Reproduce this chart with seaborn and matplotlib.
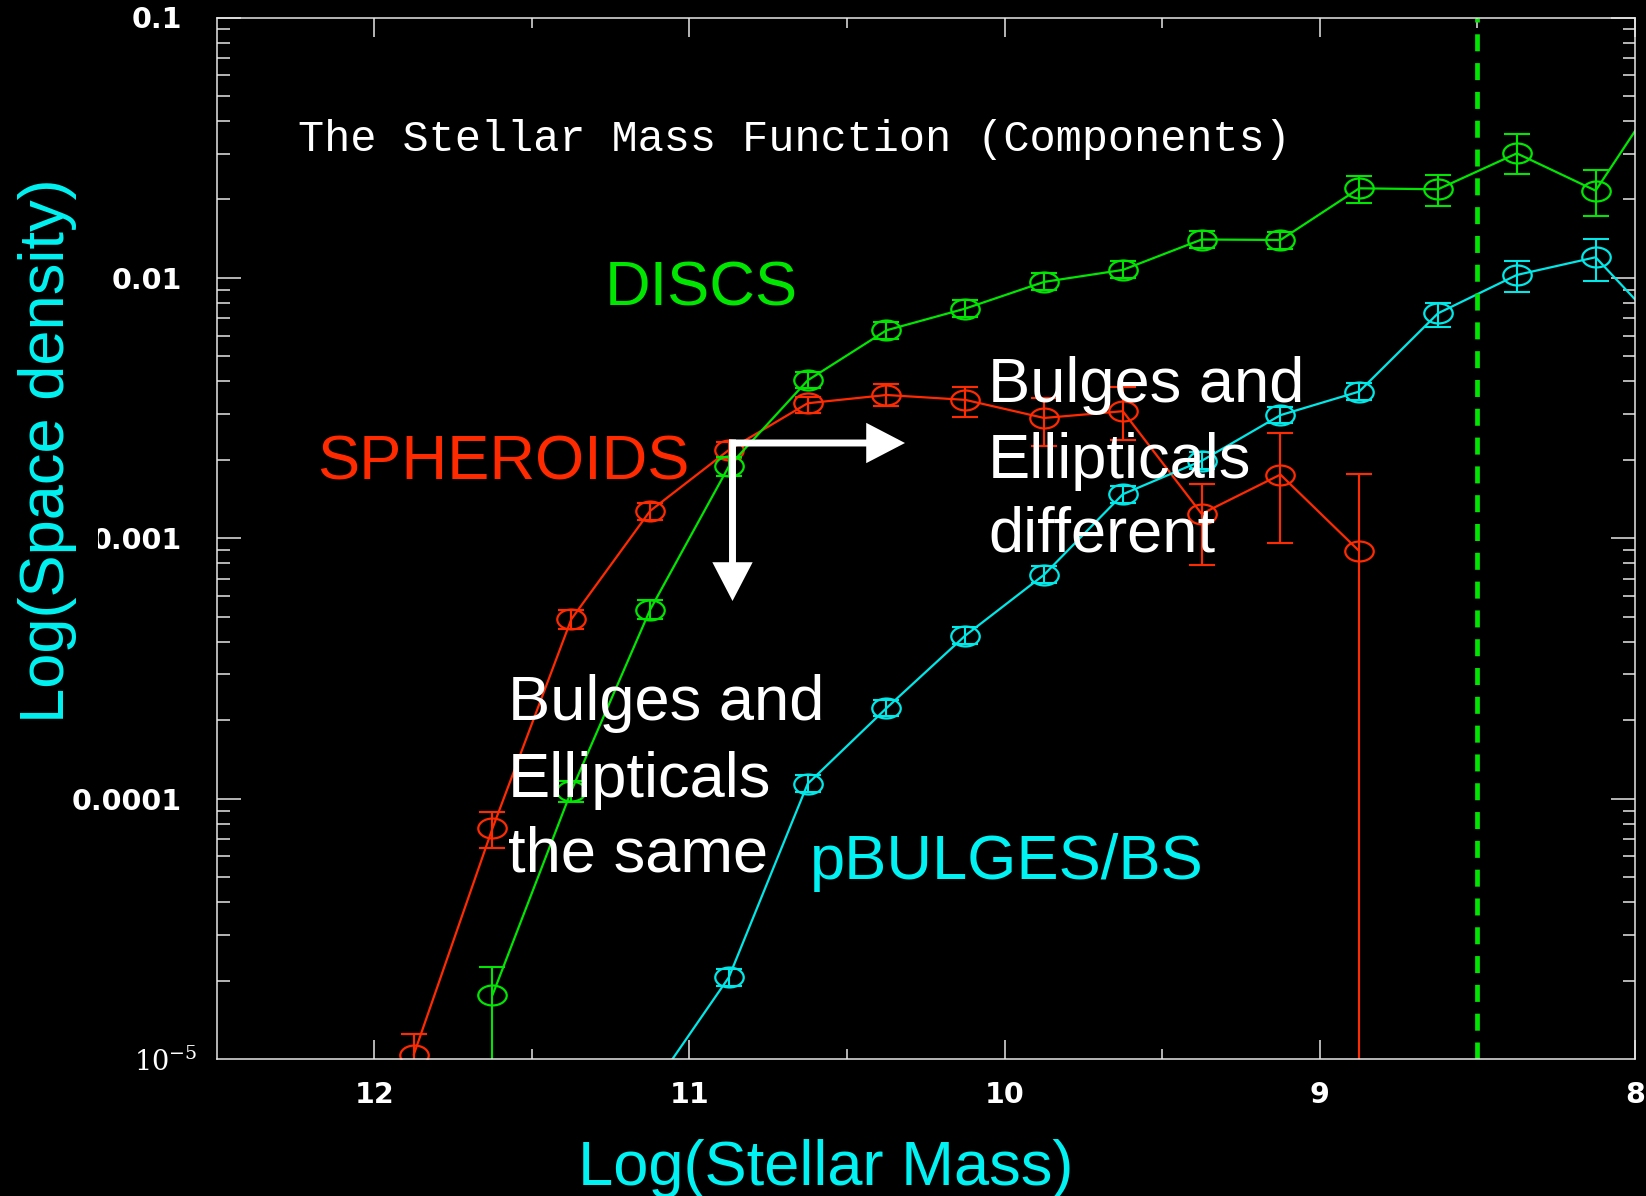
import numpy as np
import pandas as pd
import matplotlib
matplotlib.use("Agg")
import matplotlib.pyplot as plt
import seaborn as sns
from matplotlib.path import Path
from matplotlib.ticker import FixedLocator, LogLocator, NullFormatter

# ---------------- data: log stellar mass bins and space densities ----------------
sph_mass = [11.875, 11.625, 11.375, 11.125, 10.875, 10.625, 10.375, 10.125,
            9.875, 9.625, 9.375, 9.125, 8.875]
sph_phi = [1.037e-5, 7.69e-5, 4.886e-4, 1.273e-3, 2.183e-3, 3.30e-3, 3.55e-3,
           3.40e-3, 2.897e-3, 3.076e-3, 1.241e-3, 1.756e-3, 8.93e-4]
sph_lo = [5.0e-6, 6.45e-5, 4.47e-4, 1.18e-3, 2.03e-3, 3.02e-3, 3.23e-3,
          2.93e-3, 2.26e-3, 2.379e-3, 7.87e-4, 9.63e-4, 1.0e-6]
sph_hi = [1.245e-5, 8.87e-5, 5.31e-4, 1.37e-3, 2.35e-3, 3.50e-3, 3.91e-3,
          3.82e-3, 3.46e-3, 3.82e-3, 1.622e-3, 2.543e-3, 1.77e-3]

disc_mass = [11.625, 11.375, 11.125, 10.875, 10.625, 10.375, 10.125, 9.875,
             9.625, 9.375, 9.125, 8.875, 8.625, 8.375, 8.125, 7.875]
disc_phi = [1.76e-5, 1.07e-4, 5.31e-4, 1.89e-3, 4.04e-3, 6.29e-3, 7.62e-3,
            9.65e-3, 1.073e-2, 1.404e-2, 1.398e-2, 2.208e-2, 2.189e-2,
            3.008e-2, 2.163e-2, 6.2e-2]
disc_lo = [4.0e-6, 9.73e-5, 4.88e-4, 1.735e-3, 3.76e-3, 5.84e-3, 7.08e-3,
           8.96e-3, 9.96e-3, 1.30e-2, 1.288e-2, 1.944e-2, 1.888e-2,
           2.506e-2, 1.729e-2, 6.2e-2]
disc_hi = [2.25e-5, 1.17e-4, 5.77e-4, 2.05e-3, 4.35e-3, 6.77e-3, 8.21e-3,
           1.04e-2, 1.156e-2, 1.51e-2, 1.504e-2, 2.47e-2, 2.49e-2,
           3.57e-2, 2.597e-2, 6.2e-2]

bulge_mass = [11.125, 10.875, 10.625, 10.375, 10.125, 9.875, 9.625, 9.375,
              9.125, 8.875, 8.625, 8.375, 8.125, 7.875]
bulge_phi = [7.5e-6, 2.06e-5, 1.14e-4, 2.226e-4, 4.227e-4, 7.24e-4, 1.476e-3,
             1.983e-3, 2.97e-3, 3.66e-3, 7.31e-3, 1.026e-2, 1.20e-2, 5.7e-3]
bulge_lo = [7.5e-6, 1.91e-5, 1.06e-4, 2.07e-4, 3.92e-4, 6.72e-4, 1.37e-3,
            1.84e-3, 2.76e-3, 3.40e-3, 6.50e-3, 8.85e-3, 9.75e-3, 5.7e-3]
bulge_hi = [7.5e-6, 2.22e-5, 1.23e-4, 2.40e-4, 4.55e-4, 7.80e-4, 1.59e-3,
            2.14e-3, 3.20e-3, 3.94e-3, 8.03e-3, 1.164e-2, 1.414e-2, 5.7e-3]

completeness_limit = 8.5

x_ticks = [12, 11, 10, 9, 8]
x_tick_labels = ["12", "11", "10", "9", "8"]
y_ticks = [1e-4, 1e-3, 1e-2, 1e-1]
y_tick_labels = ["0.0001", "0.001", "0.01", "0.1"]

title = "The Stellar Mass Function (Components)"
x_label = "Log(Stellar Mass)"
y_label = "Log(Space density)"

RED = "#ff2a00"
GREEN = "#00e600"
CYAN = "#00e8e8"
CYAN_TEXT = "#00f2f2"
AXIS_COL = "#e6e6e6"

# ---------------- figure ----------------
W, H = 1646, 1196
sns.set_style("ticks", {"axes.facecolor": "black", "figure.facecolor": "black",
                        "axes.edgecolor": AXIS_COL})
fig = plt.figure(figsize=(W / 100, H / 100), dpi=100, facecolor="black")
ax_l, ax_r, ax_t, ax_b = 216.7, 1635.0, 17.5, 1059.0
ax = fig.add_axes([ax_l / W, 1 - ax_b / H, (ax_r - ax_l) / W, (ax_b - ax_t) / H])
ax.set_facecolor("black")
ax.set_yscale("log")


def fpos(x, y):
    """Figure-fraction position from pixel coordinates measured from the top-left."""
    return x / W, 1 - y / H


# open elliptical marker (wider than tall)
circ = Path.unit_circle()
ellipse = Path(circ.vertices * np.array([1.0, 0.7]), circ.codes)

series = [
    (sph_mass, sph_phi, sph_lo, sph_hi, RED),
    (disc_mass, disc_phi, disc_lo, disc_hi, GREEN),
    (bulge_mass, bulge_phi, bulge_lo, bulge_hi, CYAN),
]
for mass, phi, lo, hi, col in series:
    df = pd.DataFrame({"mass": mass, "phi": phi})
    sns.lineplot(data=df, x="mass", y="phi", ax=ax, color=col, linewidth=1.6,
                 sort=False, estimator=None, marker=ellipse, markersize=20.5,
                 markerfacecolor="none", markeredgecolor=col,
                 markeredgewidth=1.6)
    p = np.array(phi)
    yerr = np.vstack([p - np.array(lo), np.array(hi) - p])
    ax.errorbar(mass, phi, yerr=yerr, fmt="none", ecolor=col, elinewidth=1.5,
                capsize=9.7, capthick=1.5)

ax.axvline(completeness_limit, color=GREEN, linewidth=3.4,
           linestyle=(0, (3.6, 2.5)))

ax.set_xlim(12.5, 8.0)
ax.set_ylim(1e-5, 0.1)
ax.set_xlabel("")
ax.set_ylabel("")

ax.set_xticks(x_ticks, labels=x_tick_labels, fontweight="bold",
              family="DejaVu Sans")
ax.xaxis.set_minor_locator(FixedLocator(np.arange(8.5, 12.5, 1.0)))
ax.set_yticks(y_ticks, labels=y_tick_labels, fontweight="bold",
              family="DejaVu Sans")
ax.yaxis.set_minor_locator(LogLocator(base=10, subs=np.arange(2, 10), numticks=20))
ax.yaxis.set_minor_formatter(NullFormatter())

ax.tick_params(axis="both", which="both", direction="in", color=AXIS_COL,
               width=1.1, labelcolor="white", labelsize=20.5,
               top=True, bottom=True, left=True, right=True)
ax.tick_params(axis="y", which="major", length=17, pad=25)
ax.tick_params(axis="y", which="minor", length=9)
ax.tick_params(axis="x", which="major", length=14, pad=16)
ax.tick_params(axis="x", which="minor", length=7)
for s in ax.spines.values():
    s.set_color(AXIS_COL)
    s.set_linewidth(1.1)
    s.set_visible(True)

# lowest decade label in the thin plotting font
fig.text(*fpos(197, 1059), r"10$^{-5}$", color="white", fontsize=19.5,
         family="DejaVu Serif", math_fontfamily="dejavuserif",
         ha="right", va="center_baseline")

# title inside the frame
fig.text(*fpos(794, 151), title, family="Liberation Mono", fontsize=31.4,
         color="white", ha="center", va="baseline")

# axis labels
fig.text(*fpos(826, 1185), x_label, family="Liberation Sans", fontsize=45.5,
         color=CYAN_TEXT, ha="center", va="baseline")
fig.text(*fpos(48, 451), y_label, family="Liberation Sans", fontsize=45.5,
         color=CYAN_TEXT, ha="center", va="center", rotation=90,
         bbox=dict(facecolor="black", edgecolor="none", pad=15))

# component labels
big = dict(family="Liberation Sans", fontsize=45.5, ha="left", va="baseline")
fig.text(*fpos(605, 305), "DISCS", color=GREEN, **big)
fig.text(*fpos(317, 480), "SPHEROIDS", color=RED, **big)
fig.text(*fpos(810, 879), "pBULGES/BS", color=CYAN_TEXT, **big)

for txt, yb in zip(["Bulges and", "Ellipticals", "the same"], [720, 796.6, 872]):
    fig.text(*fpos(508, yb), txt, color="white", **big)
for txt, yb in zip(["Bulges and", "Ellipticals", "different"], [402, 478, 552]):
    fig.text(*fpos(988, yb), txt, color="white", **big)

# L-shaped pointer arrows
arrow_kw = dict(arrowstyle="-|>,head_length=2.0,head_width=1.04",
                mutation_scale=10, lw=5, color="white",
                shrinkA=0, shrinkB=0, joinstyle="miter", capstyle="butt")
ax.annotate("", xy=(732.5, H - 601), xytext=(732.5, H - 439.5),
            xycoords="figure pixels", textcoords="figure pixels",
            arrowprops=arrow_kw, annotation_clip=False)
ax.annotate("", xy=(905, H - 443), xytext=(729, H - 443),
            xycoords="figure pixels", textcoords="figure pixels",
            arrowprops=arrow_kw, annotation_clip=False)

fig.savefig("out.png", dpi=100, facecolor="black")
